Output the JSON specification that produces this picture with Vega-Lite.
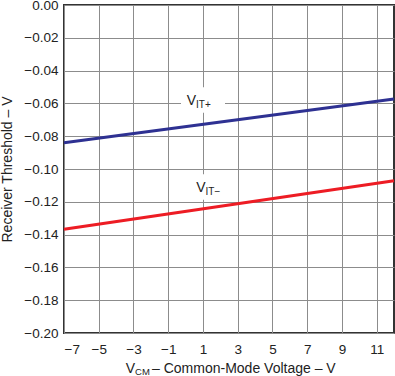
{
  "$schema": "https://vega.github.io/schema/vega-lite/v6.json",
  "width": 330,
  "height": 328,
  "autosize": {"type": "none"},
  "padding": {"left": 64, "top": 5, "right": 1, "bottom": 43},
  "background": "white",
  "config": {
    "font": "Liberation Sans",
    "view": {"stroke": "#333333", "strokeWidth": 2},
    "axis": {
      "gridColor": "#8c8c8c",
      "gridWidth": 1,
      "gridOpacity": 1,
      "ticks": false,
      "domain": false,
      "labelOverlap": false,
      "labelFont": "Liberation Sans",
      "labelFontSize": 13.5,
      "labelColor": "#222222",
      "titleFont": "Liberation Sans",
      "titleFontSize": 14,
      "titleFontWeight": "normal",
      "titleColor": "#222222"
    }
  },
  "datasets": {
    "lines": [
      {"series": "V_IT+", "vcm": -7, "threshold": -0.084},
      {"series": "V_IT+", "vcm": 12, "threshold": -0.0573},
      {"series": "V_IT-", "vcm": -7, "threshold": -0.1368},
      {"series": "V_IT-", "vcm": 12, "threshold": -0.1071}
    ],
    "labels": [
      {"series": "V_IT+", "vcm": 0.6, "threshold": -0.061, "main": "V", "sub": "IT+"},
      {"series": "V_IT-", "vcm": 1.15, "threshold": -0.114, "main": "V", "sub": "IT−"}
    ],
    "xtitle": [
      {"main": "V", "sub": "CM", "rest": "– Common-Mode Voltage – V"}
    ]
  },
  "layer": [
    {
      "data": {"name": "labels"},
      "mark": {
        "type": "point",
        "shape": "M-1,-0.58H1V0.58H-1Z",
        "size": 1936,
        "filled": true,
        "color": "white",
        "opacity": 1,
        "xOffset": 7,
        "yOffset": -5
      },
      "encoding": {
        "x": {
          "field": "vcm",
          "type": "quantitative",
          "scale": {"domain": [-7, 12], "nice": false, "zero": false},
          "axis": {"values": [-7, -5, -3, -1, 1, 3, 5, 7, 9, 11], "format": "d", "labelOverlap": false, "labelPadding": 9, "title": null}
        },
        "y": {
          "field": "threshold",
          "type": "quantitative",
          "scale": {"domain": [-0.2, 0], "nice": false, "zero": false},
          "axis": {"values": [-0.2, -0.18, -0.16, -0.14, -0.12, -0.1, -0.08, -0.06, -0.04, -0.02, 0], "format": ".2f", "labelOverlap": false, "labelPadding": 6, "title": "Receiver Threshold – V", "titleX": -53, "titleBaseline": "alphabetic"}
        }
      }
    },
    {
      "data": {"name": "lines"},
      "mark": {"type": "line", "strokeWidth": 3},
      "encoding": {
        "x": {
          "field": "vcm",
          "type": "quantitative",
          "scale": {"domain": [-7, 12], "nice": false, "zero": false},
          "axis": {"values": [-7, -5, -3, -1, 1, 3, 5, 7, 9, 11], "format": "d", "labelOverlap": false, "labelPadding": 9, "title": null}
        },
        "y": {
          "field": "threshold",
          "type": "quantitative",
          "scale": {"domain": [-0.2, 0], "nice": false, "zero": false},
          "axis": {"values": [-0.2, -0.18, -0.16, -0.14, -0.12, -0.1, -0.08, -0.06, -0.04, -0.02, 0], "format": ".2f", "labelOverlap": false, "labelPadding": 6, "title": "Receiver Threshold – V", "titleX": -53, "titleBaseline": "alphabetic"}
        },
        "color": {
          "field": "series",
          "type": "nominal",
          "scale": {"domain": ["V_IT+", "V_IT-"], "range": ["#2e3192", "#ed1c24"]},
          "legend": null
        }
      }
    },
    {
      "data": {"name": "labels"},
      "mark": {"type": "text", "align": "right", "baseline": "alphabetic", "fontSize": 14, "color": "#222222"},
      "encoding": {
        "x": {
          "field": "vcm",
          "type": "quantitative",
          "scale": {"domain": [-7, 12], "nice": false, "zero": false},
          "axis": {"values": [-7, -5, -3, -1, 1, 3, 5, 7, 9, 11], "format": "d", "labelOverlap": false, "labelPadding": 9, "title": null}
        },
        "y": {
          "field": "threshold",
          "type": "quantitative",
          "scale": {"domain": [-0.2, 0], "nice": false, "zero": false},
          "axis": {"values": [-0.2, -0.18, -0.16, -0.14, -0.12, -0.1, -0.08, -0.06, -0.04, -0.02, 0], "format": ".2f", "labelOverlap": false, "labelPadding": 6, "title": "Receiver Threshold – V", "titleX": -53, "titleBaseline": "alphabetic"}
        },
        "text": {"field": "main"}
      }
    },
    {
      "data": {"name": "labels"},
      "mark": {"type": "text", "align": "left", "baseline": "alphabetic", "fontSize": 10, "dy": 3, "color": "#222222"},
      "encoding": {
        "x": {
          "field": "vcm",
          "type": "quantitative",
          "scale": {"domain": [-7, 12], "nice": false, "zero": false},
          "axis": {"values": [-7, -5, -3, -1, 1, 3, 5, 7, 9, 11], "format": "d", "labelOverlap": false, "labelPadding": 9, "title": null}
        },
        "y": {
          "field": "threshold",
          "type": "quantitative",
          "scale": {"domain": [-0.2, 0], "nice": false, "zero": false},
          "axis": {"values": [-0.2, -0.18, -0.16, -0.14, -0.12, -0.1, -0.08, -0.06, -0.04, -0.02, 0], "format": ".2f", "labelOverlap": false, "labelPadding": 6, "title": "Receiver Threshold – V", "titleX": -53, "titleBaseline": "alphabetic"}
        },
        "text": {"field": "sub"}
      }
    },
    {
      "data": {"name": "xtitle"},
      "mark": {"type": "text", "align": "right", "baseline": "alphabetic", "fontSize": 14, "yOffset": 40, "color": "#222222", "clip": false},
      "encoding": {
        "x": {
          "datum": -2.91,
          "type": "quantitative",
          "scale": {"domain": [-7, 12], "nice": false, "zero": false},
          "axis": {"values": [-7, -5, -3, -1, 1, 3, 5, 7, 9, 11], "format": "d", "labelOverlap": false, "labelPadding": 9, "title": null}
        },
        "y": {
          "datum": -0.2,
          "type": "quantitative",
          "scale": {"domain": [-0.2, 0], "nice": false, "zero": false},
          "axis": {"values": [-0.2, -0.18, -0.16, -0.14, -0.12, -0.1, -0.08, -0.06, -0.04, -0.02, 0], "format": ".2f", "labelOverlap": false, "labelPadding": 6, "title": "Receiver Threshold – V", "titleX": -53, "titleBaseline": "alphabetic"}
        },
        "text": {"field": "main"}
      }
    },
    {
      "data": {"name": "xtitle"},
      "mark": {"type": "text", "align": "left", "baseline": "alphabetic", "fontSize": 9.5, "yOffset": 42, "color": "#222222", "clip": false},
      "encoding": {
        "x": {
          "datum": -2.91,
          "type": "quantitative",
          "scale": {"domain": [-7, 12], "nice": false, "zero": false},
          "axis": {"values": [-7, -5, -3, -1, 1, 3, 5, 7, 9, 11], "format": "d", "labelOverlap": false, "labelPadding": 9, "title": null}
        },
        "y": {
          "datum": -0.2,
          "type": "quantitative",
          "scale": {"domain": [-0.2, 0], "nice": false, "zero": false},
          "axis": {"values": [-0.2, -0.18, -0.16, -0.14, -0.12, -0.1, -0.08, -0.06, -0.04, -0.02, 0], "format": ".2f", "labelOverlap": false, "labelPadding": 6, "title": "Receiver Threshold – V", "titleX": -53, "titleBaseline": "alphabetic"}
        },
        "text": {"field": "sub"}
      }
    },
    {
      "data": {"name": "xtitle"},
      "mark": {"type": "text", "align": "left", "baseline": "alphabetic", "fontSize": 14, "yOffset": 40, "xOffset": 17, "color": "#222222", "clip": false},
      "encoding": {
        "x": {
          "datum": -2.91,
          "type": "quantitative",
          "scale": {"domain": [-7, 12], "nice": false, "zero": false},
          "axis": {"values": [-7, -5, -3, -1, 1, 3, 5, 7, 9, 11], "format": "d", "labelOverlap": false, "labelPadding": 9, "title": null}
        },
        "y": {
          "datum": -0.2,
          "type": "quantitative",
          "scale": {"domain": [-0.2, 0], "nice": false, "zero": false},
          "axis": {"values": [-0.2, -0.18, -0.16, -0.14, -0.12, -0.1, -0.08, -0.06, -0.04, -0.02, 0], "format": ".2f", "labelOverlap": false, "labelPadding": 6, "title": "Receiver Threshold – V", "titleX": -53, "titleBaseline": "alphabetic"}
        },
        "text": {"field": "rest"}
      }
    }
  ]
}
